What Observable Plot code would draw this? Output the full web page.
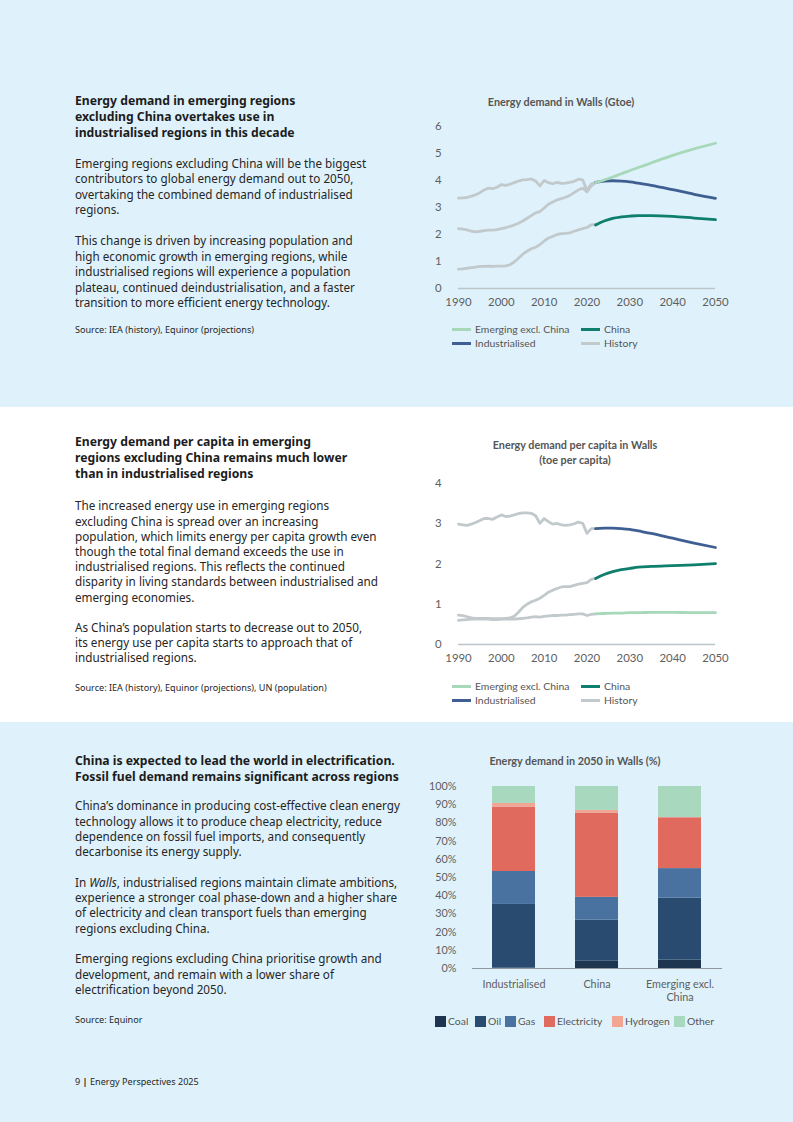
<!DOCTYPE html>
<html>
<head>
<meta charset="utf-8">
<script src="https://cdn.jsdelivr.net/npm/d3@7"></script>
<script src="https://cdn.jsdelivr.net/npm/@observablehq/plot@0.6"></script>
<style>
  body { margin: 0; font-family: Lato, "Noto Sans", sans-serif; }
  #page { position: relative; width: 793px; height: 1122px; overflow: hidden; background: #fff; }
  .panel { position: absolute; left: 0; width: 793px; }
  .t { position: absolute; left: 75px; white-space: nowrap; font-family: "Noto Sans", sans-serif; }
  .h { font-weight: 700; font-size: 12.2px; line-height: 16px; color: #1c1c1c; }
  .b { font-size: 11.7px; color: #262626; }
  .src { font-size: 9.1px; color: #262626; }
  .ct { position: absolute; font-weight: 700; font-size: 10.8px; color: #555; text-align: center; white-space: nowrap; transform: translateX(-50%); line-height: 15px; }
  .chart { position: absolute; }
  .leg { position: absolute; font-size: 10.4px; color: #555; white-space: nowrap; line-height: 12px; }
  .sw { position: absolute; }
</style>
</head>
<body>
<div id="page">
  <div class="panel" style="top:0;height:407px;background:#dff2fb"></div>
  <div class="panel" style="top:407px;height:315px;background:#ffffff"></div>
  <div class="panel" style="top:722px;height:400px;background:#dff2fb"></div>

  <div class="t h" style="top:93px">Energy demand in emerging regions<br>excluding China overtakes use in<br>industrialised regions in this decade</div>
  <div class="t b" style="top:155.5px;line-height:15.5px">Emerging regions excluding China will be the biggest<br>contributors to global energy demand out to 2050,<br>overtaking the combined demand of industrialised<br>regions.<br><br>This change is driven by increasing population and<br>high economic growth in emerging regions, while<br>industrialised regions will experience a population<br>plateau, continued deindustrialisation, and a faster<br>transition to more efficient energy technology.</div>
  <div class="t src" style="top:323px">Source: IEA (history), Equinor (projections)</div>

  <div class="t h" style="top:434px">Energy demand per capita in emerging<br>regions excluding China remains much lower<br>than in industrialised regions</div>
  <div class="t b" style="top:498.4px;line-height:15.2px">The increased energy use in emerging regions<br>excluding China is spread over an increasing<br>population, which limits energy per capita growth even<br>though the total final demand exceeds the use in<br>industrialised regions. This reflects the continued<br>disparity in living standards between industrialised and<br>emerging economies.<br><br>As China’s population starts to decrease out to 2050,<br>its energy use per capita starts to approach that of<br>industrialised regions.</div>
  <div class="t src" style="top:681px">Source: IEA (history), Equinor (projections), UN (population)</div>

  <div class="t h" style="top:753px">China is expected to lead the world in electrification.<br>Fossil fuel demand remains significant across regions</div>
  <div class="t b" style="top:798.4px;line-height:15.3px">China’s dominance in producing cost-effective clean energy<br>technology allows it to produce cheap electricity, reduce<br>dependence on fossil fuel imports, and consequently<br>decarbonise its energy supply.<br><br>In <i>Walls</i>, industrialised regions maintain climate ambitions,<br>experience a stronger coal phase-down and a higher share<br>of electricity and clean transport fuels than emerging<br>regions excluding China.<br><br>Emerging regions excluding China prioritise growth and<br>development, and remain with a lower share of<br>electrification beyond 2050.</div>
  <div class="t src" style="top:1013px">Source: Equinor</div>
  <div class="t src" style="top:1075px">9 <b>|</b> Energy Perspectives 2025</div>

  <div class="ct" style="left:561px;top:94px">Energy demand in Walls (Gtoe)</div>
  <div class="ct" style="left:575px;top:437px">Energy demand per capita in Walls<br>(toe per capita)</div>
  <div class="ct" style="left:575px;top:753px">Energy demand in 2050 in Walls (%)</div>

  <div id="c1" class="chart" style="left:420px;top:115px"></div>
  <div id="c2" class="chart" style="left:420px;top:472px"></div>
  <div id="c3" class="chart" style="left:420px;top:775px"></div>
</div>

<script>
// ---------- Data: chart 1 (Gtoe) ----------
const histYears = d3.range(1990, 2023);
const projYears = [2022, 2024, 2026, 2028, 2030, 2032, 2035, 2040, 2045, 2050];
const seriesNames = ["Emerging excl. China", "China", "Industrialised"];
const seriesColors = ["#a6d8b9", "#0e7f6d", "#3f5f93"];
const historyColor = "#c1c9cc";

const demandHistIndustrialised = [3.35, 3.36, 3.37, 3.42, 3.47, 3.55, 3.65, 3.72, 3.70, 3.75, 3.85, 3.82, 3.86, 3.92, 3.98, 4.02, 4.03, 4.06, 3.98, 3.80, 4.00, 3.92, 3.88, 3.93, 3.89, 3.90, 3.93, 3.97, 4.05, 4.02, 3.63, 3.88, 3.92];
const demandHistEmerging = [2.22, 2.20, 2.17, 2.12, 2.10, 2.12, 2.14, 2.16, 2.16, 2.18, 2.22, 2.25, 2.30, 2.35, 2.42, 2.50, 2.60, 2.70, 2.80, 2.85, 2.98, 3.12, 3.20, 3.28, 3.33, 3.38, 3.45, 3.55, 3.65, 3.72, 3.58, 3.80, 3.92];
const demandHistChina = [0.72, 0.73, 0.75, 0.77, 0.79, 0.82, 0.82, 0.83, 0.82, 0.83, 0.83, 0.84, 0.88, 0.98, 1.12, 1.27, 1.38, 1.47, 1.53, 1.62, 1.76, 1.87, 1.93, 2.00, 2.03, 2.04, 2.06, 2.12, 2.17, 2.22, 2.26, 2.36, 2.38];
const demandProjEmerging = [3.92, 4.02, 4.13, 4.25, 4.37, 4.48, 4.65, 4.93, 5.17, 5.38];
const demandProjIndustrialised = [3.93, 3.98, 3.99, 3.98, 3.95, 3.90, 3.82, 3.66, 3.49, 3.34];
const demandProjChina = [2.35, 2.50, 2.60, 2.65, 2.68, 2.70, 2.70, 2.67, 2.61, 2.55];

// ---------- Data: chart 2 (toe per capita) ----------
const pcHistIndustrialised = [2.99, 2.97, 2.96, 2.99, 3.03, 3.08, 3.13, 3.13, 3.11, 3.17, 3.22, 3.18, 3.19, 3.22, 3.25, 3.27, 3.27, 3.26, 3.20, 3.01, 3.13, 3.05, 2.99, 3.01, 2.97, 2.96, 2.97, 3.00, 3.04, 3.01, 2.76, 2.88, 2.88];
const pcHistChina = [0.73, 0.72, 0.69, 0.66, 0.65, 0.65, 0.65, 0.65, 0.64, 0.64, 0.64, 0.65, 0.66, 0.70, 0.80, 0.92, 1.00, 1.06, 1.10, 1.15, 1.22, 1.30, 1.35, 1.39, 1.43, 1.44, 1.44, 1.47, 1.50, 1.52, 1.54, 1.62, 1.64];
const pcHistEmerging = [0.60, 0.61, 0.62, 0.63, 0.63, 0.63, 0.63, 0.63, 0.62, 0.62, 0.63, 0.63, 0.63, 0.63, 0.64, 0.65, 0.66, 0.68, 0.69, 0.68, 0.70, 0.71, 0.72, 0.72, 0.73, 0.73, 0.74, 0.75, 0.76, 0.76, 0.72, 0.75, 0.76];
const pcProjIndustrialised = [2.88, 2.89, 2.89, 2.88, 2.86, 2.82, 2.76, 2.64, 2.52, 2.41];
const pcProjChina = [1.64, 1.74, 1.81, 1.86, 1.89, 1.92, 1.94, 1.96, 1.98, 2.01];
const pcProjEmerging = [0.76, 0.77, 0.78, 0.78, 0.79, 0.79, 0.80, 0.80, 0.79, 0.79];

const xTicks = [1990, 2000, 2010, 2020, 2030, 2040, 2050];
const yTicks1 = [0, 1, 2, 3, 4, 5, 6];
const yTicks2 = [0, 1, 2, 3, 4];

// ---------- Data: chart 3 (% of demand in 2050) ----------
const regions = ["Industrialised", "China", "Emerging excl. China"];
const regionLabels = ["Industrialised", "China", "Emerging excl.\nChina"];
const fuels = ["Coal", "Oil", "Gas", "Electricity", "Hydrogen", "Other"];
const fuelColors = ["#1e3550", "#294b70", "#4a72a0", "#e06a5d", "#f2a593", "#a8d8bd"];
const shareIndustrialised = [0.3, 34.9, 18.1, 35.4, 2.0, 9.3];
const shareChina = [4.0, 22.6, 12.5, 46.3, 1.5, 13.1];
const shareEmerging = [4.6, 34.1, 16.2, 27.9, 0.2, 17.0];
const pctTicks = [0, 10, 20, 30, 40, 50, 60, 70, 80, 90, 100];

// ---------- Build tables ----------
function rows(series, years, values) {
  return values.map((v, i) => ({series, year: years[i], value: v}));
}
const hist1 = [
  ...rows("Industrialised", histYears, demandHistIndustrialised),
  ...rows("Emerging excl. China", histYears, demandHistEmerging),
  ...rows("China", histYears, demandHistChina)
];
const proj1 = [
  ...rows("Industrialised", projYears, demandProjIndustrialised),
  ...rows("China", projYears, demandProjChina),
  ...rows("Emerging excl. China", projYears, demandProjEmerging)
];
const hist2 = [
  ...rows("Industrialised", histYears, pcHistIndustrialised),
  ...rows("Emerging excl. China", histYears, pcHistEmerging),
  ...rows("China", histYears, pcHistChina)
];
const proj2 = [
  ...rows("Emerging excl. China", projYears, pcProjEmerging),
  ...rows("China", projYears, pcProjChina),
  ...rows("Industrialised", projYears, pcProjIndustrialised)
];

const baseStyle = {fontFamily: "Lato, 'Noto Sans', sans-serif", color: "#5e5e5e", background: "transparent", overflow: "visible"};

function lineChart(hist, proj, yMax, yTicks, height, mb) {
  return Plot.plot({
    width: 310, height,
    marginLeft: 38, marginRight: 15, marginTop: 11, marginBottom: mb,
    style: {...baseStyle, fontSize: "11.4px"},
    x: {domain: [1990, 2050], label: null},
    y: {domain: [0, yMax], label: null},
    color: {domain: seriesNames, range: seriesColors},
    marks: [
      Plot.ruleY([0], {stroke: "#bcc5c9", strokeWidth: 1.6}),
      Plot.line(hist, {x: "year", y: "value", z: "series", stroke: historyColor, strokeWidth: 2.8, curve: "linear"}),
      Plot.line(proj, {x: "year", y: "value", z: "series", stroke: "series", strokeWidth: 2.8, curve: "monotone-x"}),
      Plot.axisY({ticks: yTicks, tickSize: 0, tickPadding: 17, label: null, tickFormat: d => String(d)}),
      Plot.axisX({ticks: xTicks, tickSize: 0, tickPadding: 9, label: null, tickFormat: d => String(d)})
    ]
  });
}

document.getElementById("c1").append(lineChart(hist1, proj1, 6, yTicks1, 200, 27));
document.getElementById("c2").append(lineChart(hist2, proj2, 4, yTicks2, 200, 28));

const shares = [shareIndustrialised, shareChina, shareEmerging];
const bars = [];
regions.forEach((r, i) => fuels.forEach((f, j) => bars.push({region: r, fuel: f, value: shares[i][j]})));

document.getElementById("c3").append(Plot.plot({
  width: 310, height: 233,
  marginLeft: 52, marginRight: 8, marginTop: 11, marginBottom: 40,
  style: {...baseStyle, fontSize: "10.8px"},
  x: {domain: regions, paddingInner: 0.48, paddingOuter: 0.24, label: null},
  y: {domain: [0, 100], label: null},
  color: {domain: fuels, range: fuelColors},
  marks: [
    Plot.barY(bars, {x: "region", y: "value", fill: "fuel"}),
    Plot.ruleY([0], {stroke: "#8d979c", strokeWidth: 1.2}),
    Plot.axisY({ticks: pctTicks, tickSize: 0, tickPadding: 16, label: null, tickFormat: d => d + "%"}),
    Plot.axisX({tickSize: 0, tickPadding: 10, lineHeight: 1.2, label: null, tickFormat: d => regionLabels[regions.indexOf(d)]})
  ]
}));

// ---------- HTML legends ----------
const page = document.getElementById("page");
function lineLegend(top) {
  const items = [
    {label: seriesNames[0], color: seriesColors[0], x: 452, y: top},
    {label: seriesNames[1], color: seriesColors[1], x: 581, y: top},
    {label: seriesNames[2], color: seriesColors[2], x: 452, y: top + 14},
    {label: "History", color: historyColor, x: 581, y: top + 14}
  ];
  for (const it of items) {
    const s = document.createElement("div");
    s.className = "sw";
    s.style.cssText = `left:${it.x}px;top:${it.y - 1.5}px;width:19px;height:3px;background:${it.color}`;
    page.append(s);
    const t = document.createElement("div");
    t.className = "leg";
    t.style.cssText = `left:${it.x + 23}px;top:${it.y - 6.5}px`;
    t.textContent = it.label;
    page.append(t);
  }
}
lineLegend(329);
lineLegend(686);

const fuelX = [435, 475, 505, 544, 612, 674];
fuels.forEach((f, i) => {
  const s = document.createElement("div");
  s.className = "sw";
  s.style.cssText = `left:${fuelX[i]}px;top:1016px;width:11px;height:11px;background:${fuelColors[i]}`;
  page.append(s);
  const t = document.createElement("div");
  t.className = "leg";
  t.style.cssText = `left:${fuelX[i] + 13}px;top:1015px`;
  t.textContent = f;
  page.append(t);
});
</script>
</body>
</html>
